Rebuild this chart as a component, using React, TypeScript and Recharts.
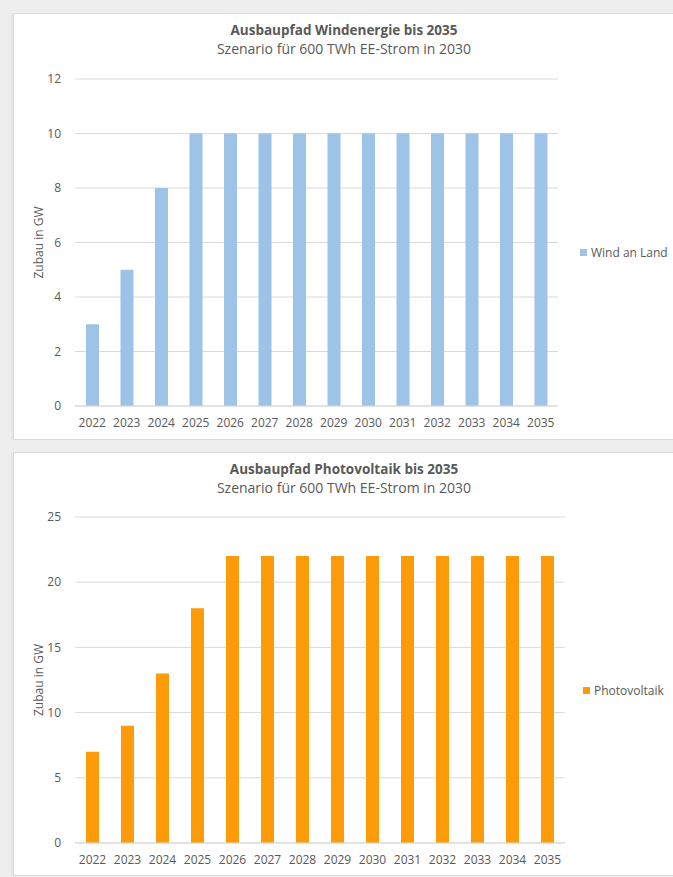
import React from 'react';
import { BarChart, Bar, XAxis, YAxis, CartesianGrid, Legend } from 'recharts';

const years = ['2022', '2023', '2024', '2025', '2026', '2027', '2028', '2029', '2030', '2031', '2032', '2033', '2034', '2035'];
const windZubau = [3, 5, 8, 10, 10, 10, 10, 10, 10, 10, 10, 10, 10, 10];
const pvZubau = [7, 9, 13, 18, 22, 22, 22, 22, 22, 22, 22, 22, 22, 22];
const windTicks = [0, 2, 4, 6, 8, 10, 12];
const pvTicks = [0, 5, 10, 15, 20, 25];

const windData = years.map((year, i) => ({ year, wind: windZubau[i] }));
const pvData = years.map((year, i) => ({ year, pv: pvZubau[i] }));

const FONT = '"Open Sans", "Noto Sans", sans-serif';
const TEXT = '#595959';
const GRID = '#d9d9d9';

const panelStyle: React.CSSProperties = {
  position: 'absolute',
  left: 13,
  width: 700,
  background: '#fff',
  border: `1px solid ${GRID}`,
  boxShadow: '-2px 0 0 #e6e6e6',
  fontFamily: FONT,
};

function Titles({ title }: { title: string }) {
  return (
    <>
      <div style={{ position: 'absolute', left: 0, width: 660, top: 8, lineHeight: '16px', textAlign: 'center', fontWeight: 700, fontSize: 13.5, color: TEXT, whiteSpace: 'nowrap' }}>
        {title}
      </div>
      <div style={{ position: 'absolute', left: 0, width: 660, top: 26, lineHeight: '18px', textAlign: 'center', fontSize: 14, color: TEXT, whiteSpace: 'nowrap' }}>
        Szenario für 600 TWh EE-Strom in 2030
      </div>
    </>
  );
}

// legend: small square + grey label, kept on one line
function LegendContent({ payload, pad }: { payload?: Array<{ value?: string; color?: string }>; pad: number }) {
  return (
    <div style={{ paddingLeft: pad, whiteSpace: 'nowrap', fontFamily: FONT }}>
      {(payload || []).map((entry) => (
        <div key={entry.value} style={{ display: 'flex', alignItems: 'center', height: 18 }}>
          <span style={{ display: 'inline-block', width: 7, height: 7, background: entry.color, marginRight: 4 }} />
          <span style={{ color: TEXT, fontSize: 12 }}>{entry.value}</span>
        </div>
      ))}
    </div>
  );
}

interface PanelChartProps {
  data: Array<Record<string, string | number>>;
  dataKey: string;
  name: string;
  color: string;
  ticks: number[];
  height: number;
  top: number;
  legendWidth: number;
  legendPad: number;
  legendTop: number;
}

function PanelChart({ data, dataKey, name, color, ticks, height, top, legendWidth, legendPad, legendTop }: PanelChartProps) {
  return (
    <BarChart
      width={660}
      height={height}
      data={data}
      margin={{ top, right: 0, bottom: 8, left: 0 }}
      style={{ fontFamily: FONT }}
    >
      <CartesianGrid vertical={false} stroke={GRID} />
      <XAxis
        dataKey="year"
        height={20}
        tickLine={false}
        axisLine={{ stroke: GRID }}
        tick={{ fill: TEXT, fontSize: 12 }}
        tickSize={6}
        tickMargin={6}
        interval={0}
      />
      <YAxis
        width={61}
        domain={[ticks[0], ticks[ticks.length - 1]]}
        ticks={ticks}
        axisLine={false}
        tickLine={false}
        tickSize={6}
        tickMargin={8}
        tick={{ fill: TEXT, fontSize: 12 }}
        label={{ value: 'Zubau in GW', angle: -90, position: 'center', dx: -6, fill: TEXT, fontSize: 12 }}
      />
      <Legend
        layout="vertical"
        align="right"
        verticalAlign="middle"
        content={(props: any) => <LegendContent payload={props.payload} pad={legendPad} />}
        wrapperStyle={{ width: legendWidth, top: legendTop }}
      />
      <Bar dataKey={dataKey} name={name} fill={color} barSize={13} isAnimationActive={false} />
    </BarChart>
  );
}

export default function App() {
  return (
    <div style={{ position: 'absolute', left: 0, top: 0, width: 673, height: 877, overflow: 'hidden', background: '#eeeeee' }}>
      <div style={{ ...panelStyle, top: 13, height: 425 }}>
        <Titles title="Ausbaupfad Windenergie bis 2035" />
        <PanelChart
          data={windData}
          dataKey="wind"
          name="Wind an Land"
          color="#9dc3e6"
          ticks={windTicks}
          height={420}
          top={65}
          legendWidth={116}
          legendPad={22}
          legendTop={229}
        />
      </div>
      <div style={{ ...panelStyle, top: 452, height: 422 }}>
        <Titles title="Ausbaupfad Photovoltaik bis 2035" />
        <PanelChart
          data={pvData}
          dataKey="pv"
          name="Photovoltaik"
          color="#fd9b0b"
          ticks={pvTicks}
          height={418}
          top={64}
          legendWidth={109}
          legendPad={18}
          legendTop={228}
        />
      </div>
    </div>
  );
}
